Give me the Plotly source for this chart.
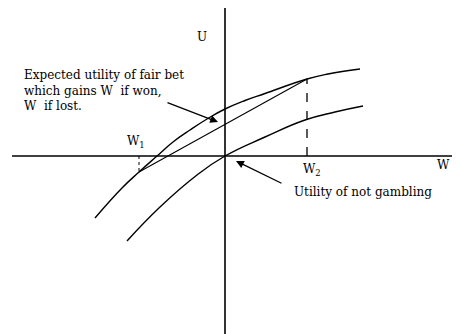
import plotly.graph_objects as go

# points (W = wealth change, U = utility), same units as pixels
upper_w = [-130, -103, -86, -68, -52, -35, -18, 0, 20, 40, 82, 103, 135]
upper_u = [-62, -32, -16, 0, 14, 26, 37, 47, 55.5, 62.5, 77, 82, 87]

lower_w = [-98, -65, -28, 0, 40, 80, 110, 138]
lower_u = [-85, -51, -19, 0, 19, 36, 44, 50]

w1 = -86
w2 = 82
u_w1 = -16
u_w2 = 77

bet_text = "Expected utility of fair bet<br>which gains W  if won,<br>W  if lost."

fig = go.Figure()

line = dict(color="black", width=1.4, shape="spline", smoothing=1.3)
fig.add_trace(go.Scatter(x=upper_w, y=upper_u, mode="lines", line=line))
fig.add_trace(go.Scatter(x=lower_w, y=lower_u, mode="lines", line=line))

# chord of the fair bet
fig.add_trace(go.Scatter(x=[w1, w2], y=[u_w1, u_w2], mode="lines",
                         line=dict(color="black", width=1.1)))

# drop lines
fig.add_trace(go.Scatter(x=[w1, w1], y=[0, u_w1], mode="lines",
                         line=dict(color="black", width=1, dash="dot")))
fig.add_trace(go.Scatter(x=[w2, w2], y=[0, u_w2], mode="lines",
                         line=dict(color="black", width=1.3, dash="dash")))

# axes
fig.add_shape(type="line", x0=-213, x1=235, y0=0, y1=0,
              line=dict(color="black", width=1.4))
fig.add_shape(type="line", x0=0, x1=0, y0=-178, y1=151,
              line=dict(color="black", width=1.6))

font = dict(family="DejaVu Serif", size=12, color="black")

fig.add_annotation(x=-203, y=66, xanchor="left", yanchor="middle", align="left",
                   text=bet_text, showarrow=False, font=font)
fig.add_annotation(x=-7, y=34, ax=-59, ay=54, axref="x", ayref="y", arrowcolor="black",
                   showarrow=True, arrowhead=2, arrowsize=1.2, arrowwidth=1.3, text="")

fig.add_annotation(x=67, y=-36, xanchor="left", yanchor="middle",
                   text="Utility of not gambling", showarrow=False, font=font)
fig.add_annotation(x=11, y=-5, ax=58, ay=-28, axref="x", ayref="y", arrowcolor="black",
                   showarrow=True, arrowhead=2, arrowsize=1.2, arrowwidth=1.3, text="")

fig.add_annotation(x=-23, y=119, text="U", showarrow=False, font=font)
fig.add_annotation(x=218, y=-9, text="W", showarrow=False, font=font)
fig.add_annotation(x=-89, y=14, text="W<sub>1</sub>", showarrow=False, font=font)
fig.add_annotation(x=87, y=-14, text="W<sub>2</sub>", showarrow=False, font=font)

# page body has an 8px margin, so the figure is sized to the visible part
fig.update_layout(
    width=452, height=326,
    margin=dict(l=0, r=0, t=0, b=0),
    paper_bgcolor="white", plot_bgcolor="white",
    showlegend=False,
    xaxis=dict(range=[-217, 235], visible=False, fixedrange=True),
    yaxis=dict(range=[-178, 148], visible=False, fixedrange=True),
)

fig.write_html("out.html")
